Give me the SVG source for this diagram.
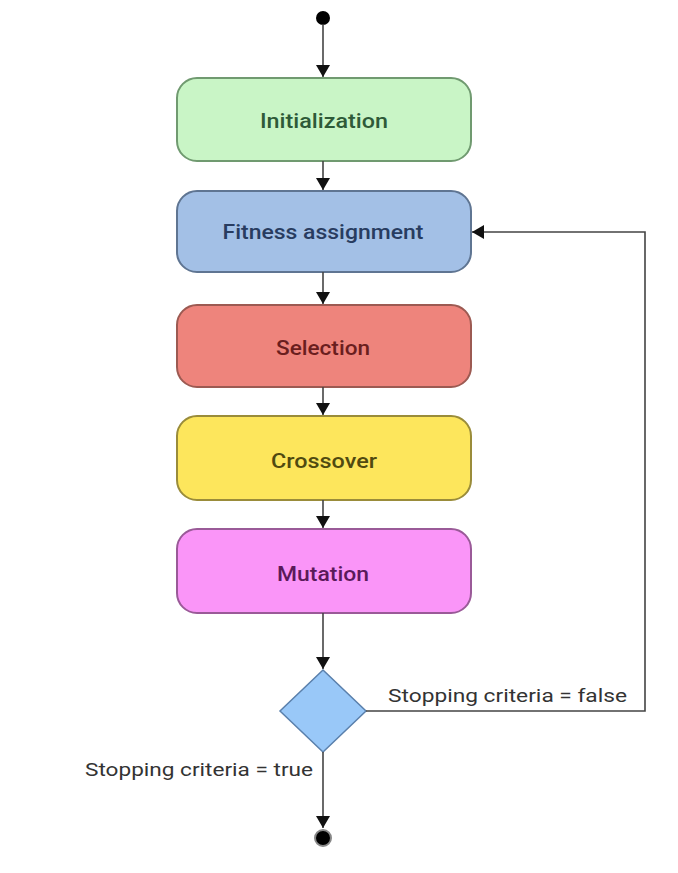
<svg xmlns="http://www.w3.org/2000/svg" width="678" height="873" viewBox="0 0 678 873">
<defs>
<marker id="arr" viewBox="0 0 12 14" refX="12" refY="7" markerWidth="12" markerHeight="14" markerUnits="userSpaceOnUse" orient="auto">
<path d="M0,0 L12,7 L0,14 Z" fill="#111"/>
</marker>
</defs>
<style>
.box{stroke-width:2}
.lbl{font-family:Roboto,"Liberation Sans",sans-serif;font-size:21px;font-weight:500;text-anchor:middle}
.edge{fill:none;stroke:#444;stroke-width:1.6}
.etxt{font-family:Roboto,"Liberation Sans",sans-serif;font-size:19px;fill:#333}
</style>
<rect width="678" height="873" fill="#fff"/>
<g id="start"><circle cx="323" cy="18" r="7" fill="#000"/></g>
<g id="initialization">
<rect class="box" x="177" y="78" width="294" height="83" rx="20" fill="#c9f5c6" stroke="#709a70"/>
<text class="lbl" x="324" y="128" fill="#2e5a38" textLength="128" lengthAdjust="spacingAndGlyphs">Initialization</text>
</g>
<g id="fitness">
<rect class="box" x="177" y="191" width="294" height="81" rx="20" fill="#a3c0e6" stroke="#5f7592"/>
<text class="lbl" x="323" y="239" fill="#283c60" textLength="201" lengthAdjust="spacingAndGlyphs">Fitness assignment</text>
</g>
<g id="selection">
<rect class="box" x="177" y="305" width="294" height="82" rx="20" fill="#ee847c" stroke="#9c5a52"/>
<text class="lbl" x="323" y="355" fill="#6a1e1e" textLength="94" lengthAdjust="spacingAndGlyphs">Selection</text>
</g>
<g id="crossover">
<rect class="box" x="177" y="416" width="294" height="84" rx="20" fill="#fde65c" stroke="#9a8c3a"/>
<text class="lbl" x="324" y="468" fill="#504a10" textLength="106" lengthAdjust="spacingAndGlyphs">Crossover</text>
</g>
<g id="mutation">
<rect class="box" x="177" y="529" width="294" height="84" rx="20" fill="#fa95f8" stroke="#9a5a98"/>
<text class="lbl" x="323" y="581" fill="#5a1a5a" textLength="92" lengthAdjust="spacingAndGlyphs">Mutation</text>
</g>
<g id="decision">
<polygon points="323,670 366,711 323,752 280,711" fill="#99c8f8" stroke="#5a80ac" stroke-width="1.5"/>
</g>
<g id="end">
<circle cx="323" cy="838" r="8" fill="#000" stroke="#888" stroke-width="2"/>
</g>
<g id="connectors">
<line class="edge" x1="323" y1="24" x2="323" y2="77" marker-end="url(#arr)"/>
<line class="edge" x1="323" y1="161" x2="323" y2="190" marker-end="url(#arr)"/>
<line class="edge" x1="323" y1="272" x2="323" y2="304" marker-end="url(#arr)"/>
<line class="edge" x1="323" y1="387" x2="323" y2="415" marker-end="url(#arr)"/>
<line class="edge" x1="323" y1="500" x2="323" y2="528" marker-end="url(#arr)"/>
<line class="edge" x1="323" y1="613" x2="323" y2="669" marker-end="url(#arr)"/>
<polyline class="edge" points="366,711 645,711 645,232 472,232" marker-end="url(#arr)"/>
<line class="edge" x1="323" y1="752" x2="323" y2="828" marker-end="url(#arr)"/>
<text class="etxt" x="388" y="702" textLength="239" lengthAdjust="spacingAndGlyphs">Stopping criteria = false</text>
<text class="etxt" x="85" y="776" textLength="228" lengthAdjust="spacingAndGlyphs">Stopping criteria = true</text>
</g>
</svg>
